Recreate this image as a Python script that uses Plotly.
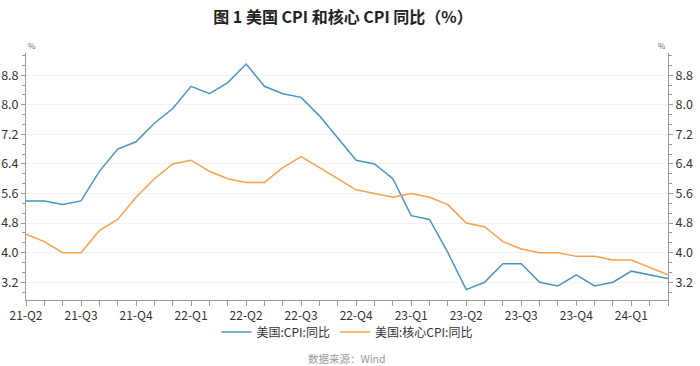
import plotly.graph_objects as go

months = ["2021-06","2021-07","2021-08","2021-09","2021-10","2021-11","2021-12",
          "2022-01","2022-02","2022-03","2022-04","2022-05","2022-06","2022-07","2022-08","2022-09",
          "2022-10","2022-11","2022-12","2023-01","2023-02","2023-03","2023-04","2023-05","2023-06",
          "2023-07","2023-08","2023-09","2023-10","2023-11","2023-12","2024-01","2024-02","2024-03",
          "2024-04","2024-05"]
cpi = [5.4,5.4,5.3,5.4,6.2,6.8,7.0,7.5,7.9,8.5,8.3,8.6,9.1,8.5,8.3,8.2,7.7,7.1,6.5,6.4,6.0,5.0,
       4.9,4.0,3.0,3.2,3.7,3.7,3.2,3.1,3.4,3.1,3.2,3.5,3.4,3.3]
core = [4.5,4.3,4.0,4.0,4.6,4.9,5.5,6.0,6.4,6.5,6.2,6.0,5.9,5.9,6.3,6.6,6.3,6.0,5.7,5.6,5.5,5.6,
        5.5,5.3,4.8,4.7,4.3,4.1,4.0,4.0,3.9,3.9,3.8,3.8,3.6,3.4]
quarter_labels = {"2021-06":"21-Q2","2021-09":"21-Q3","2021-12":"21-Q4","2022-03":"22-Q1",
                  "2022-06":"22-Q2","2022-09":"22-Q3","2022-12":"22-Q4","2023-03":"23-Q1",
                  "2023-06":"23-Q2","2023-09":"23-Q3","2023-12":"23-Q4","2024-03":"24-Q1"}
names = ["美国:CPI:同比", "美国:核心CPI:同比"]
colors = ["#4a95bf", "#f9a04a"]

FONT = "Noto Sans CJK SC"
TITLE_FONT = "Noto Sans CJK SC"
fig = go.Figure()
fig.add_trace(go.Scatter(x=months, y=cpi, mode="lines", name=names[0],
                         line=dict(color=colors[0], width=1.5)))
fig.add_trace(go.Scatter(x=months, y=core, mode="lines", name=names[1],
                         line=dict(color=colors[1], width=1.5)))
fig.add_trace(go.Scatter(x=months, y=core, mode="lines", yaxis="y2", showlegend=False,
                         hoverinfo="skip", line=dict(color="rgba(0,0,0,0)", width=0)))

yr = [2.72, 9.4]
yax = dict(range=yr, tickmode="linear", tick0=0, dtick=0.8, tickformat=".1f",
           showline=True, linecolor="#999", linewidth=1, ticks="outside", ticklen=4,
           tickcolor="#999", showgrid=True, gridcolor="#f3f3f3", gridwidth=1,
           zeroline=False, automargin=False, tickfont=dict(family=FONT, size=12.5, color="#333"),
           minor=dict(dtick=0.8/3, tick0=0, ticks="outside", ticklen=3, tickcolor="#999",
                      showgrid=False))

fig.update_layout(
    width=700, height=366,
    margin=dict(l=26, r=32, t=53, b=66),
    paper_bgcolor="white", plot_bgcolor="white",
    title=dict(text="<b>图 1 美国 CPI 和核心 CPI 同比（%）</b>", x=0.49, xanchor="center",
               y=0.952, yanchor="middle", font=dict(family=TITLE_FONT, size=16, color="#222")),
    xaxis=dict(type="category", range=[0, len(months) - 1], tickmode="array",
               tickvals=months, ticktext=[quarter_labels.get(m, "") for m in months],
               showline=True, linecolor="#999", linewidth=1, ticks="outside", ticklen=5,
               tickcolor="#999", showgrid=False, tickangle=0, automargin=False,
               tickfont=dict(family=FONT, size=12, color="#333")),
    yaxis=yax,
    yaxis2=dict(yax, overlaying="y", side="right"),
    legend=dict(orientation="h", x=0.5, xanchor="center", y=-0.13, yanchor="middle",
                font=dict(family=FONT, size=12, color="#333"), itemwidth=30,
                bgcolor="rgba(0,0,0,0)"),
    showlegend=True,
    annotations=[
        dict(text="%", xref="paper", yref="paper", x=0, y=1.0, xanchor="left", yanchor="bottom",
             showarrow=False, font=dict(family=FONT, size=8, color="#666")),
        dict(text="%", xref="paper", yref="paper", x=1, y=1.0, xanchor="right", yanchor="bottom",
             showarrow=False, font=dict(family=FONT, size=8, color="#666")),
        dict(text="数据来源：Wind", xref="paper", yref="paper", x=0.5, y=-0.235,
             xanchor="center", yanchor="middle", showarrow=False,
             font=dict(family=FONT, size=10.5, color="#999")),
    ],
)

fig.write_html("out.html", config={"displayModeBar": False},
               post_script="document.body.style.margin='0';document.body.style.overflow='hidden';")
